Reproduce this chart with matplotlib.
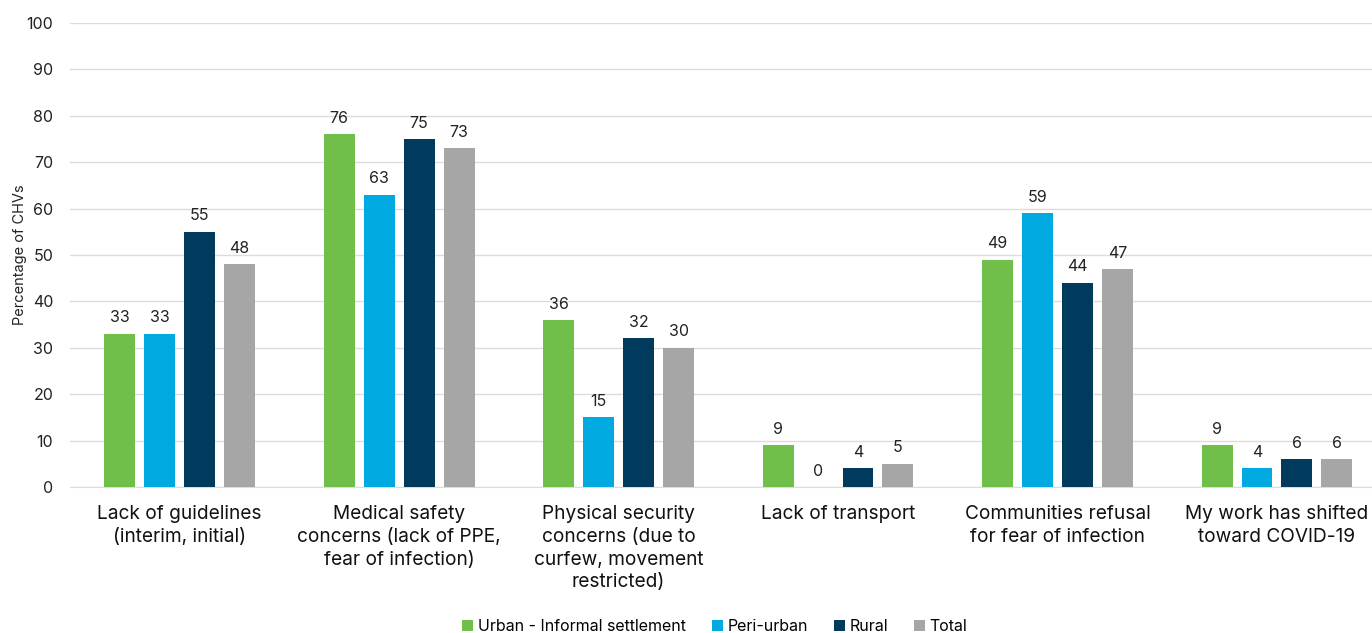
import matplotlib.pyplot as plt
import numpy as np

plt.rcParams['font.family'] = ['Inter', 'DejaVu Sans']

categories = [
    'Lack of guidelines\n(interim, initial)',
    'Medical safety\nconcerns (lack of PPE,\nfear of infection)',
    'Physical security\nconcerns (due to\ncurfew, movement\nrestricted)',
    'Lack of transport',
    'Communities refusal\nfor fear of infection',
    'My work has shifted\ntoward COVID-19',
]
series_names = ['Urban - Informal settlement', 'Peri-urban', 'Rural', 'Total']
urban = [33, 76, 36, 9, 49, 9]
peri_urban = [33, 63, 15, 0, 59, 4]
rural = [55, 75, 32, 4, 44, 6]
total = [48, 73, 30, 5, 47, 6]
colors = ['#70BF4B', '#00A9E0', '#003A5D', '#A6A6A6']

fig = plt.figure(figsize=(13.72, 6.33), dpi=100)
ax = fig.add_axes([0.051, 0.2307, 0.9597, 0.733])

x = np.arange(len(categories))
width = 0.141
step = 0.182
for i, (name, vals) in enumerate(zip(series_names, [urban, peri_urban, rural, total])):
    pos = x + (i - 1.5) * step
    bars = ax.bar(pos, vals, width, color=colors[i], label=name, zorder=3)
    for b, v in zip(bars, vals):
        ax.text(b.get_x() + b.get_width() / 2, v + 1.8, str(v),
                ha='center', va='bottom', fontsize=11.5, color='#222222')

ax.set_xlim(-0.5, len(categories) - 0.5)
ax.set_ylim(0, 100)
ax.set_yticks(range(0, 101, 10))
ax.grid(axis='y', color='#DCDCDC', linewidth=1, zorder=0)
ax.set_xticks(x)
ax.set_xticklabels(categories, fontsize=13.75, color='#111111', linespacing=1.34)
ax.tick_params(axis='x', length=0, pad=13)
ax.tick_params(axis='y', length=0, labelsize=11.5, labelcolor='#222222', pad=12)
for s in ['top', 'right', 'left']:
    ax.spines[s].set_visible(False)
ax.spines['bottom'].set_color('#DCDCDC')
ax.set_ylabel('Percentage of CHVs', fontsize=10.5, color='#222222')
ax.yaxis.set_label_coords(-0.0327, 0.5)

fig.legend(loc='lower center', bbox_to_anchor=(0.521, -0.025), ncol=4,
           frameon=False, fontsize=11.5, handlelength=0.7, handleheight=0.7,
           handletextpad=0.3, columnspacing=1.6)

fig.savefig('out.png', dpi=100)
